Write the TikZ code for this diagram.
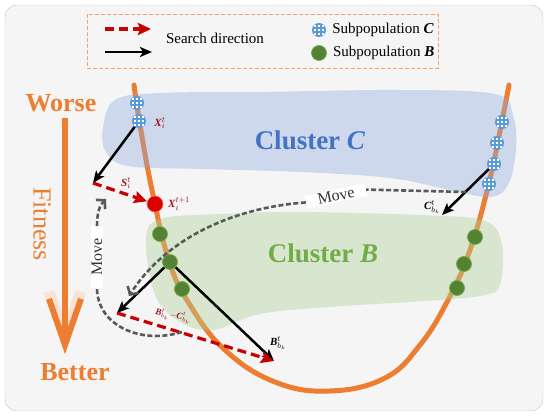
\documentclass[tikz,border=0pt]{standalone}
\usepackage{fontspec}
\setmainfont{Liberation Serif}
\usepackage{tikz}
\usetikzlibrary{arrows.meta, positioning}
\definecolor{fitorange}{HTML}{ED7D31}
\definecolor{legorange}{HTML}{F4A46A}
\definecolor{popblue}{HTML}{5B9BD5}
\definecolor{popgreen}{HTML}{548235}
\definecolor{ctext}{HTML}{4472C4}
\definecolor{btext}{HTML}{70AD47}
\definecolor{lblred}{RGB}{150,20,30}
\definecolor{dirred}{HTML}{C80000}
\definecolor{movegray}{HTML}{595959}
\definecolor{cfill}{RGB}{140,171,225}
\definecolor{bfill}{RGB}{174,209,151}
\definecolor{bggray}{HTML}{F5F5F5}
\tikzstyle{subC}    = [circle, inner sep=0pt, minimum size=14pt, fill=popblue, path picture={\foreach \i in {-1,0,1} \foreach \j in {-1,0,1} \fill[white] ([xshift=\i*3.6pt-1pt, yshift=\j*3.6pt-1pt]path picture bounding box.center) rectangle ++(2pt,2pt);}]
\tikzstyle{subB}    = [circle, inner sep=0pt, minimum size=15pt, fill=popgreen, draw=btext, line width=0.8pt]
\tikzstyle{newx}    = [circle, inner sep=0pt, minimum size=16pt, fill=red!85!black, draw=red!60!white, line width=0.6pt]
\tikzstyle{lbl}     = [inner sep=0pt, font=\fontsize{11}{11}\selectfont]
\tikzstyle{legtxt}  = [inner sep=2pt, font=\fontsize{15}{15}\selectfont]
\tikzstyle{title}   = [fitorange, inner sep=0pt, font=\bfseries\fontsize{26}{26}\selectfont]
\tikzstyle{cluster} = [inner sep=0pt, font=\bfseries\fontsize{27}{27}\selectfont]
\tikzstyle{movelbl} = [fill=white, inner xsep=12pt, inner ysep=1pt, text=black!80, font=\fontsize{16}{16}\selectfont]
\tikzstyle{arrow}   = [line width=2.5pt, -{Stealth[length=12pt, width=10pt, inset=3pt]}]
\tikzstyle{srch}    = [dirred, line width=3.2pt, dash pattern=on 9pt off 5pt, -{Stealth[length=13pt, width=12pt, inset=2pt]}]
\tikzstyle{mvpath}  = [movegray, line width=2.6pt, dash pattern=on 5pt off 2.5pt]
\tikzstyle{mvtip}   = [-{Straight Barb[length=6pt, width=13pt]}]
\tikzstyle{fitarrow}= [fitorange, line width=6pt, line join=round, -{Straight Barb[length=46pt, width=32pt]}]
\tikzstyle{fitglow} = [fitorange!22, line width=11pt, line join=round, line cap=round, -{Straight Barb[length=46pt, width=32pt]}]

\begin{document}
\begin{tikzpicture}[x=1pt, y=-1pt]
  \useasboundingbox (0,0) rectangle (550,419);
  \draw[gray!45, fill=bggray, rounded corners=12pt] (5,5) rectangle (543,411);

  % legend
  \draw[legorange, line width=0.9pt, dash pattern=on 4pt off 2pt] (87,14) rectangle (438,68);
  \coordinate (ls1) at (105,29);
  \coordinate (le1) at (151,29);
  \coordinate (ls2) at (105,52);
  \coordinate (le2) at (152,52);
  \draw[srch]  (ls1) -- (le1);
  \draw[arrow] (ls2) -- (le2);
  \node (sd)  [legtxt] at (215,38) {Search direction};
  \node (lgC) [subC]   at (319,30) {};
  \node (lgB) [subB]   at (319,53) {};
  \node (lgCt) [legtxt, right=4pt of lgC] {Subpopulation \textbf{\textit{C}}};
  \node (lgBt) [legtxt, right=4pt of lgB] {Subpopulation \textbf{\textit{B}}};

  % fitness scale
  \node (worse)  [title] at (61,103) {Worse};
  \node (better) [title] at (75,372) {Better};
  \node (fit) [fitorange, font=\fontsize{26}{26}\selectfont, rotate=-90] at (42,224) {Fitness};
  \coordinate (fitTop) at (65,118);
  \coordinate (fitBot) at (65,354);
  \draw[fitglow] (fitBot) ++(0,-30) -- (fitBot);
  \draw[fitarrow] (fitTop) -- (fitBot);

  % landscape and clusters
  \draw[fitorange, line width=5pt, line cap=round] plot[smooth, tension=.7] coordinates {(134,85) (140,125) (152,190) (169,261) (190,305) (225,350) (275,382) (330,391) (385,378) (420,345) (448,300) (470,250) (489,183) (502,121) (509,85)};
  \fill[cfill, fill opacity=.38] plot[smooth cycle, tension=.6] coordinates {(103,128) (115,100) (160,93) (260,92) (400,90) (495,94) (513,115) (516,150) (508,185) (490,197) (450,190) (390,178) (300,172) (200,169) (128,166) (106,152)};
  \fill[bfill, fill opacity=.4] plot[smooth cycle, tension=.6] coordinates {(146,240) (160,219) (220,214) (300,212) (420,215) (485,221) (502,245) (500,285) (485,295) (440,300) (330,307) (260,314) (213,330) (180,322) (155,295)};
  \node (clC) [cluster, text=ctext] at (310,140) {Cluster \textit{C}};
  \node (clB) [cluster, text=btext] at (323,253) {Cluster \textit{B}};

  % individuals
  \node (c1)   [subC] at (137,103) {};
  \node (xi)   [subC] at (139,121) {};
  \node (xnew) [newx] at (155,204) {};
  \node (b1)   [subB] at (160,234) {};
  \node (bk)   [subB] at (170,262) {};
  \node (b3)   [subB] at (182,289) {};
  \node (c2)   [subC] at (502,122) {};
  \node (c3)   [subC] at (497,143) {};
  \node (cbk)  [subC] at (494,164) {};
  \node (c5)   [subC] at (489,184) {};
  \node (b4)   [subB] at (475,237) {};
  \node (b5)   [subB] at (464,264) {};
  \node (b6)   [subB] at (457,288) {};

  % search directions
  \coordinate (sA)   at (93,183);
  \coordinate (dB)   at (117,313);
  \coordinate (bTip) at (274,361);
  \coordinate (cTip) at (442,215);
  \draw[arrow] (xi) -- (sA);
  \draw[srch]  (sA) -- (xnew);
  \draw[arrow] (bk) -- (dB);
  \draw[arrow] (bk) -- (bTip);
  \draw[srch]  (dB) -- (bTip);
  \draw[arrow] (cbk) -- (cTip);

  \node (xil)   [lbl, text=lblred] at (160,123) {$\textbf{\textit{X}}_i^{t}$};
  \node (xnl)   [lbl, text=lblred] at (179,204) {$\textbf{\textit{X}}_i^{t+1}$};
  \node (sl)    [lbl, text=lblred] at (126,183) {$\textbf{\textit{S}}_i^{t}$};
  \node (cl)    [lbl] at (432,207) {$\textbf{\textit{C}}_{b_k}^{t}$};
  \node (bl)    [lbl] at (278,343) {$\textbf{\textit{B}}_{b_k}^{t}$};
  \node (diffl) [lbl, text=lblred, rotate=-10, font=\fontsize{9}{9}\selectfont] at (173,316) {$\textbf{\textit{B}}_{b_k}^{t}{-}\textbf{\textit{C}}_{b_k}^{t}$};

  % moves between clusters
  \node (topmv)  [movelbl, rotate=12] at (336,196) {Move};
  \node (sidemv) [movelbl, rotate=90] at (97,257) {Move};
  \coordinate (mvR)   at (466,192);
  \coordinate (mvTipA) at (129,296);
  \coordinate (mvB)   at (182,332);
  \coordinate (mvTipB) at (106,199);
  \draw[mvpath] (mvR) -- (topmv.east);
  \draw[mvpath, mvtip] (topmv.west) .. controls (230,208) and (165,240) .. (mvTipA);
  \draw[mvpath] (mvB) .. controls (140,345) and (97,325) .. (sidemv.west);
  \draw[mvpath, mvtip] (sidemv.east) .. controls (97,212) and (100,205) .. (mvTipB);
\end{tikzpicture}
\end{document}
